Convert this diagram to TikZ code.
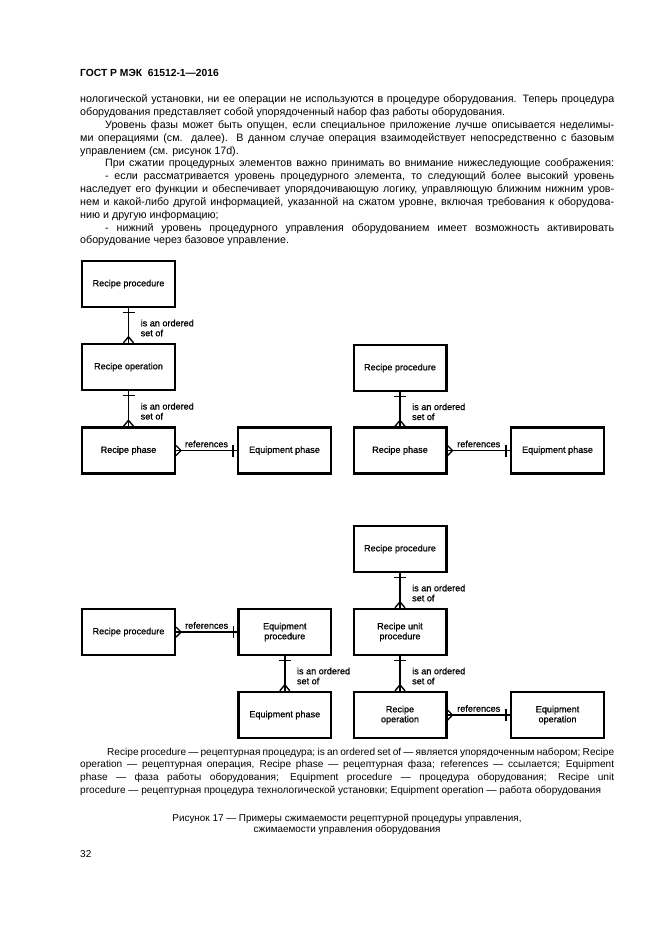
\documentclass[tikz,border=0pt]{standalone}
\usepackage{fontspec}
\setmainfont{Liberation Sans}
\newfontfamily\diagfont[FakeBold=0.8]{Liberation Sans}
\usetikzlibrary{calc}
\tikzset{
  box/.style={draw, line width=2.4pt, minimum width=92.6pt, minimum height=46pt, inner sep=1pt, align=center, font=\diagfont\fontsize{9.1}{10}\selectfont},
  conn/.style={line width=1.4pt},
  lbl/.style={font=\diagfont\fontsize{9.1}{10}\selectfont, align=left, inner sep=0pt},
  txt/.style={anchor=base west, inner sep=0pt, font=\fontsize{10.7}{12}\selectfont},
  leg/.style={anchor=base west, inner sep=0pt, font=\fontsize{10.1}{12}\selectfont},
  captxt/.style={anchor=base, inner sep=0pt, font=\fontsize{9.9}{11}\selectfont},
}
\newcommand\ordrel[2]{%
  \draw[conn] (#1.south) -- (#2.north);
  \draw[conn] ([xshift=-6pt,yshift=-4pt]#1.south) -- ([xshift=6pt,yshift=-4pt]#1.south);
  \draw[conn] ([xshift=-5pt]#2.north) -- ([yshift=6pt]#2.north) -- ([xshift=5pt]#2.north);
  \node[lbl, anchor=west] at ($(#1.south)!0.5!(#2.north)+(12,2.5)$) {is an ordered\\set of};
}
\newcommand\refrel[2]{%
  \draw[conn] (#1.east) -- (#2.west);
  \draw[conn] ([yshift=5pt]#1.east) -- ([xshift=5pt]#1.east) -- ([yshift=-5pt]#1.east);
  \draw[conn] ([xshift=-4pt,yshift=6pt]#2.west) -- ([xshift=-4pt,yshift=-6pt]#2.west);
  \node[lbl, anchor=south] at ($(#1.east)!0.5!(#2.west)+(0,-3)$) {references};
}
\begin{document}
\begin{tikzpicture}[x=1pt,y=-1pt]
\path[fill=white] (0,0) rectangle (661,936);
\useasboundingbox (0,0) rectangle (661,936);

% header
\node[anchor=base west, inner sep=0pt, font=\fontsize{10.3}{12}\selectfont\bfseries] (hdr) at (80,77) {ГОСТ Р МЭК\ \ 61512-1—2016};

% body text
\node[txt] (l1) at (80,103) {\makebox[534pt][s]{нологической установки, ни ее операции не используются в процедуре оборудования. Теперь процедура}};
\node[txt] (l2) at (80,115.8) {оборудования представляет собой упорядоченный набор фаз работы оборудования.};
\node[txt] (l3) at (105,128.6) {\makebox[509pt][s]{Уровень фазы может быть опущен, если специальное приложение лучше описывается неделимы-}};
\node[txt] (l4) at (80,141.4) {\makebox[534pt][s]{ми операциями (см. далее). В данном случае операция взаимодействует непосредственно с базовым}};
\node[txt] (l5) at (80,154.2) {управлением (см. рисунок 17d).};
\node[txt] (l6) at (105,167) {\makebox[509pt][s]{При сжатии процедурных элементов важно принимать во внимание нижеследующие соображения:}};
\node[txt] (l7) at (105,179.8) {\makebox[509pt][s]{- если рассматривается уровень процедурного элемента, то следующий более высокий уровень}};
\node[txt] (l8) at (80,192.6) {\makebox[534pt][s]{наследует его функции и обеспечивает упорядочивающую логику, управляющую ближним нижним уров-}};
\node[txt] (l9) at (80,205.4) {\makebox[534pt][s]{нем и какой-либо другой информацией, указанной на сжатом уровне, включая требования к оборудова-}};
\node[txt] (l10) at (80,218.2) {нию и другую информацию;};
\node[txt] (l11) at (105,231) {\makebox[509pt][s]{- нижний уровень процедурного управления оборудованием имеет возможность активировать}};
\node[txt] (l12) at (80,243.8) {оборудование через базовое управление.};

% diagram A
\node[box] (a1) at (128.5,284) {Recipe procedure};
\node[box] (a2) at (128.5,367) {Recipe operation};
\node[box] (a3) at (128.5,450.5) {Recipe phase};
\node[box] (a4) at (284.5,450.5) {Equipment phase};
\ordrel{a1}{a2}
\ordrel{a2}{a3}
\refrel{a3}{a4}

% diagram B
\node[box] (b1) at (400,368) {Recipe procedure};
\node[box] (b2) at (400,450.5) {Recipe phase};
\node[box] (b3) at (557.5,450.5) {Equipment phase};
\ordrel{b1}{b2}
\refrel{b2}{b3}

% diagram C
\node[box] (c1) at (128.5,632) {Recipe procedure};
\node[box] (c2) at (284.8,632) {Equipment\\procedure};
\node[box] (c3) at (284.8,715) {Equipment phase};
\refrel{c1}{c2}
\ordrel{c2}{c3}

% diagram D
\node[box] (d1) at (400,549) {Recipe procedure};
\node[box] (d2) at (400,632) {Recipe unit\\procedure};
\node[box] (d3) at (400,715) {Recipe\\operation};
\node[box] (d4) at (557.5,715) {Equipment\\operation};
\ordrel{d1}{d2}
\ordrel{d2}{d3}
\refrel{d3}{d4}

% legend
\node[leg] (g1) at (107,755) {\makebox[507pt][s]{Recipe procedure — рецептурная процедура; is an ordered set of — является упорядоченным набором; Recipe}};
\node[leg] (g2) at (80,767.7) {\makebox[534pt][s]{operation — рецептурная операция, Recipe phase — рецептурная фаза; references — ссылается; Equipment}};
\node[leg] (g3) at (80,780.4) {\makebox[534pt][s]{phase — фаза работы оборудования; Equipment procedure — процедура оборудования; Recipe unit}};
\node[leg] (g4) at (80,793.1) {procedure — рецептурная процедура технологической установки; Equipment operation — работа оборудования};

% caption
\node[captxt] (cp1) at (347,821) {Рисунок 17 — Примеры сжимаемости рецептурной процедуры управления,};
\node[captxt] (cp2) at (347,832.5) {сжимаемости управления оборудования};

% page number
\node[anchor=base west, inner sep=0pt, font=\fontsize{10}{12}\selectfont] (pg) at (80,857.5) {32};
\end{tikzpicture}
\end{document}
